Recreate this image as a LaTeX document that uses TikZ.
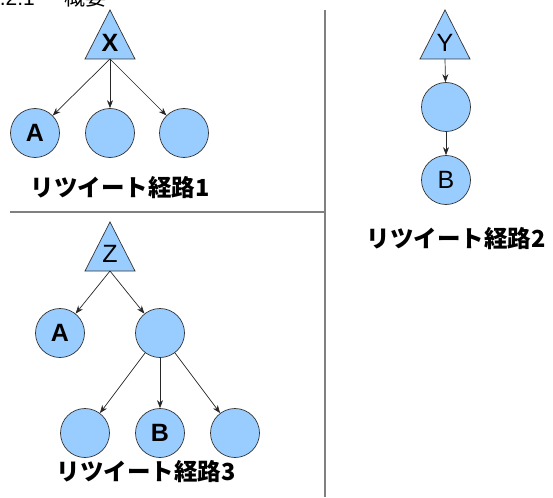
\documentclass[tikz,border=0pt]{standalone}
\usepackage{fontspec}
\setmainfont{Liberation Sans}
\newfontfamily\jp{Noto Sans CJK JP}
\usetikzlibrary{arrows.meta}
\definecolor{nodeblue}{HTML}{99CCFF}
\definecolor{divgray}{HTML}{808080}
\begin{document}
\begin{tikzpicture}[x=1pt,y=-1pt,
  circ/.style={circle,draw=black!80,fill=nodeblue,line width=0.7pt,minimum size=49pt,inner sep=0pt,font=\fontsize{25}{25}\selectfont},
  tri/.style={draw=black!80,fill=nodeblue,line width=0.7pt},
  lbl/.style={inner sep=0pt,font=\fontsize{25}{25}\selectfont},
  blbl/.style={inner sep=0pt,font=\bfseries\fontsize{25}{25}\selectfont},
  edge/.style={-{Stealth[length=8pt,width=6pt]},line width=0.7pt,black!85},
  divider/.style={divgray,line width=1.5pt},
  caption/.style={inner sep=0pt,font=\jp\bfseries\fontsize{23.5}{23.5}\selectfont},
  heading/.style={inner sep=0pt,anchor=base west,font=\fontsize{21}{21}\selectfont},
]
\useasboundingbox (0,0) rectangle (553,497);
\clip (0,0) rectangle (553,497);
% heading (cut off at the top)
\node[heading] (h1) at (-12,5.5) {5.2.1};
\node[heading,font=\jp\fontsize{21}{21}\selectfont] (h2) at (64,5.5) {概要};
% dividers
\draw[divider] (325,10) -- (325,497);
\draw[divider] (10,212) -- (325,212);
% ---- tree 1
\draw[tri] (110,10) -- (135,59) -- (85,59) -- cycle;
\coordinate (X) at (110,59);
\node[blbl] (xl) at (110,43) {X};
\node[circ] (t1a) at (35,133) {\bfseries A};
\node[circ] (t1b) at (110,133) {};
\node[circ] (t1c) at (184,133) {};
\draw[edge] (X) -- (t1a);
\draw[edge] (X) -- (t1b);
\draw[edge] (X) -- (t1c);
\node[caption] (c1) at (120,188) {リツイート経路1};
% ---- tree 2
\draw[tri] (445,10) -- (470,59) -- (420,59) -- cycle;
\coordinate (Y) at (445,59);
\node[lbl] (yl) at (445,43) {Y};
\node[circ] (t2a) at (446,107) {};
\node[circ] (t2b) at (446,180) {B};
\draw[edge] (Y) -- (t2a);
\draw[edge] (t2a) -- (t2b);
\node[caption] (c2) at (456,239) {リツイート経路2};
% ---- tree 3
\draw[tri] (110,222) -- (135,271) -- (85,271) -- cycle;
\coordinate (Z) at (110,271);
\node[lbl] (zl) at (110,254) {Z};
\node[circ] (t3a) at (60,333) {\bfseries A};
\node[circ] (t3b) at (160,333) {};
\draw[edge] (Z) -- (t3a);
\draw[edge] (Z) -- (t3b);
\node[circ] (t3c) at (85,433) {};
\node[circ] (t3d) at (160,433) {\bfseries B};
\node[circ] (t3e) at (235,433) {};
\draw[edge] (t3b) -- (t3c);
\draw[edge] (t3b) -- (t3d);
\draw[edge] (t3b) -- (t3e);
\node[caption] (c3) at (146,472) {リツイート経路3};
\end{tikzpicture}
\end{document}
